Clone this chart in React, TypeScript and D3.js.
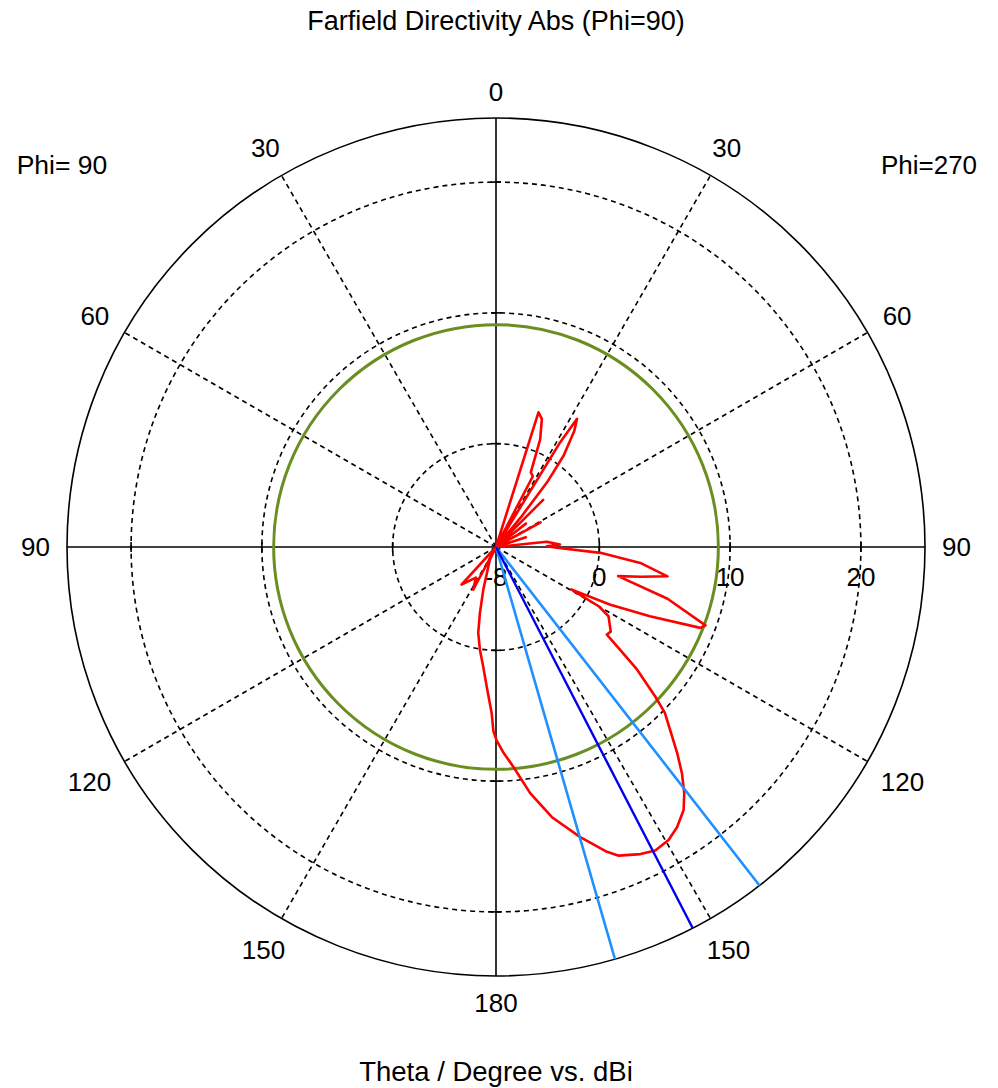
import React from "react";
import * as d3 from "d3";

// Plot angle: 0..360 clockwise from top (right half = Phi 270 side, left half = Phi 90 side)
const plotAngle = [
  0, 14, 16, 17.5, 19.7, 22.3, 25.0, 27.5, 29.5, 31.5, 32.3, 34.0, 36.5, 38.3, 40.0, 42,
  45, 48, 52, 56, 61, 65, 72, 78, 84, 87.8, 89.2, 90.5, 93.2, 96.3, 99.7, 101.6, 103.4,
  106.8, 110.5, 111.6, 114.2, 116.8, 119.4, 120.0, 121.6, 126.4, 128.3, 129.6, 131.0,
  133.2, 134.5, 136.1, 138.7, 140.6, 142.6, 144.5, 147.1, 149.5, 152.3, 154.8, 158.3,
  160.0, 163.8, 168.3, 172.1, 175.5, 178.0, 179.8, 180.8, 181.5, 183.8, 186.1, 188.9, 191.7,
  193.7, 196.6, 205.6, 206.8, 208.1, 213.3, 222.6, 225.5, 360,
];
const directivity = [
  -20, -20, -9, 2.9, 2.5, 1.0, -1.6, -1.8, -9, 1.5, 3.7, 2.8, 0.8, -1.6, -5, -9,
  -2.8, -8, -5, -9, -4.0, -9, -5.5, -9, -4, -3.0, -4.0, -3.4, 0.1, 3.2, 5.4, 3.4, 1.7,
  5.8, 9.2, 8.9, 5.0, 1.9, -1.3, 1.2, 2.2, 3.0, 2.9, 4.4, 6.4,
  8.8, 10.2, 11.2, 13.1, 14.5, 15.8, 16.8, 17.6, 18.1, 18.3, 18.05, 17.5,
  16.9, 15.2, 13.2, 11.1, 8.95, 7.8, 6.9, 6.2, 4.8, 2.8, 1.3, 0.05, -1.2,
  -2.7, -4.5, -6.8, -12, -4.2, -5.1, -4.0, -12, -20,
];

const angleTicks = [0, 30, 60, 90, 120, 150, 180, 210, 240, 270, 300, 330];
const angleTickLabels = ["0", "30", "60", "90", "120", "150", "180", "150", "120", "90", "60", "30"];
const radialTicks = [0, 10, 20];
const radialTickLabels = ["0", "10", "20"];
const centerLabel = "-8";
const sideLobeLevel = 9.1;
const mainLobeDirection = 152.7;
const beamEdges = [142.1, 163.9];

const titleText = "Farfield Directivity Abs (Phi=90)";
const xAxisText = "Theta / Degree vs. dBi";
const leftPhi = "Phi= 90";
const rightPhi = "Phi=270";

const W = 998, H = 1088;
const cx = 496, cy = 547, R = 429;
const FONT = "'Liberation Sans', Arial, sans-serif";
const FS = 26;

export default function App() {
  const rScale = d3.scaleLinear().domain([-7.9, 24.9]).range([0, R]);
  const rr = (v: number) => Math.max(0, rScale(v));
  const rad = (a: number) => (a * Math.PI) / 180;
  const pt = (a: number, r: number) => [cx + r * Math.sin(rad(a)), cy - r * Math.cos(rad(a))];

  const pts = plotAngle.map((a, i) => [rad(a), rr(directivity[i])] as [number, number]);
  const line = d3.lineRadial<[number, number]>().angle((d) => d[0]).radius((d) => d[1]).curve(d3.curveLinear);
  const path = line(pts) || "";

  const dashedAngles = angleTicks.filter((a) => a % 90 !== 0);
  const halfH = 0.716 * FS / 2;

  return (
    <svg width={W} height={H} style={{ position: "absolute", left: 0, top: 0, background: "#fff" }}
      fontFamily={FONT} fontSize={FS}>
      <rect x={0} y={0} width={W} height={H} fill="#fff" />
      {/* dashed circles */}
      {radialTicks.map((t) => (
        <circle key={"c" + t} cx={cx} cy={cy} r={rScale(t)} fill="none" stroke="#000" strokeWidth={1.6} strokeDasharray="5,4" />
      ))}
      {/* dashed radial lines */}
      {dashedAngles.map((a) => {
        const [x2, y2] = pt(a, R);
        return <line key={"d" + a} x1={cx} y1={cy} x2={x2} y2={y2} stroke="#000" strokeWidth={1.6} strokeDasharray="5,4" />;
      })}
      {/* outer circle */}
      <circle cx={cx} cy={cy} r={R} fill="none" stroke="#000" strokeWidth={1.6} />
      {/* axes */}
      <line x1={cx} y1={cy - R} x2={cx} y2={cy + R} stroke="#000" strokeWidth={1.6} />
      <line x1={cx - R} y1={cy} x2={cx + R} y2={cy} stroke="#000" strokeWidth={1.6} />
      {/* ticks */}
      {radialTicks.map((t) => {
        const r = rScale(t);
        return (
          <g key={"t" + t} stroke="#000" strokeWidth={1.6}>
            <line x1={cx + r} y1={cy - 5} x2={cx + r} y2={cy + 5} />
            <line x1={cx - r} y1={cy - 5} x2={cx - r} y2={cy + 5} />
            <line x1={cx - 5} y1={cy - r} x2={cx + 5} y2={cy - r} />
            <line x1={cx - 5} y1={cy + r} x2={cx + 5} y2={cy + r} />
          </g>
        );
      })}
      {/* angle labels */}
      {angleTicks.map((a, i) => {
        const lab = angleTickLabels[i];
        const halfW = (lab.length * 0.556 * FS) / 2;
        const lr = 446 + halfW * Math.abs(Math.sin(rad(a))) + halfH * Math.abs(Math.cos(rad(a)));
        const [x, y] = pt(a, lr);
        return (
          <text key={"a" + a} x={x} y={y + halfH} textAnchor="middle" fill="#000">{lab}</text>
        );
      })}
      {/* radial labels */}
      <text x={cx} y={577 + halfH} textAnchor="middle" fill="#000">{centerLabel}</text>
      {radialTicks.map((t, i) => (
        <text key={"rl" + t} x={cx + rScale(t)} y={577 + halfH} textAnchor="middle" fill="#000">{radialTickLabels[i]}</text>
      ))}
      {/* titles */}
      <text x={496} y={30} textAnchor="middle" fill="#000" fontSize={27}>{titleText}</text>
      <text x={496} y={1081} textAnchor="middle" fill="#000" fontSize={27.5}>{xAxisText}</text>
      <text x={62} y={165 + halfH} textAnchor="middle" fill="#000" fontSize={26.5}>{leftPhi}</text>
      <text x={929} y={165 + halfH} textAnchor="middle" fill="#000">{rightPhi}</text>
      {/* side lobe level circle */}
      <circle cx={cx} cy={cy} r={rScale(sideLobeLevel)} fill="none" stroke="#6b8e23" strokeWidth={3} />
      {/* farfield curve */}
      <path d={path} transform={`translate(${cx},${cy})`} fill="none" stroke="#ff0000" strokeWidth={2.6} strokeLinejoin="round" />
      {/* beam lines */}
      {beamEdges.map((a) => {
        const [x2, y2] = pt(a, R);
        return <line key={"b" + a} x1={cx} y1={cy} x2={x2} y2={y2} stroke="#1e90ff" strokeWidth={2.6} />;
      })}
      {(() => {
        const [x2, y2] = pt(mainLobeDirection, R);
        return <line x1={cx} y1={cy} x2={x2} y2={y2} stroke="#0000ee" strokeWidth={2.4} />;
      })()}
    </svg>
  );
}
